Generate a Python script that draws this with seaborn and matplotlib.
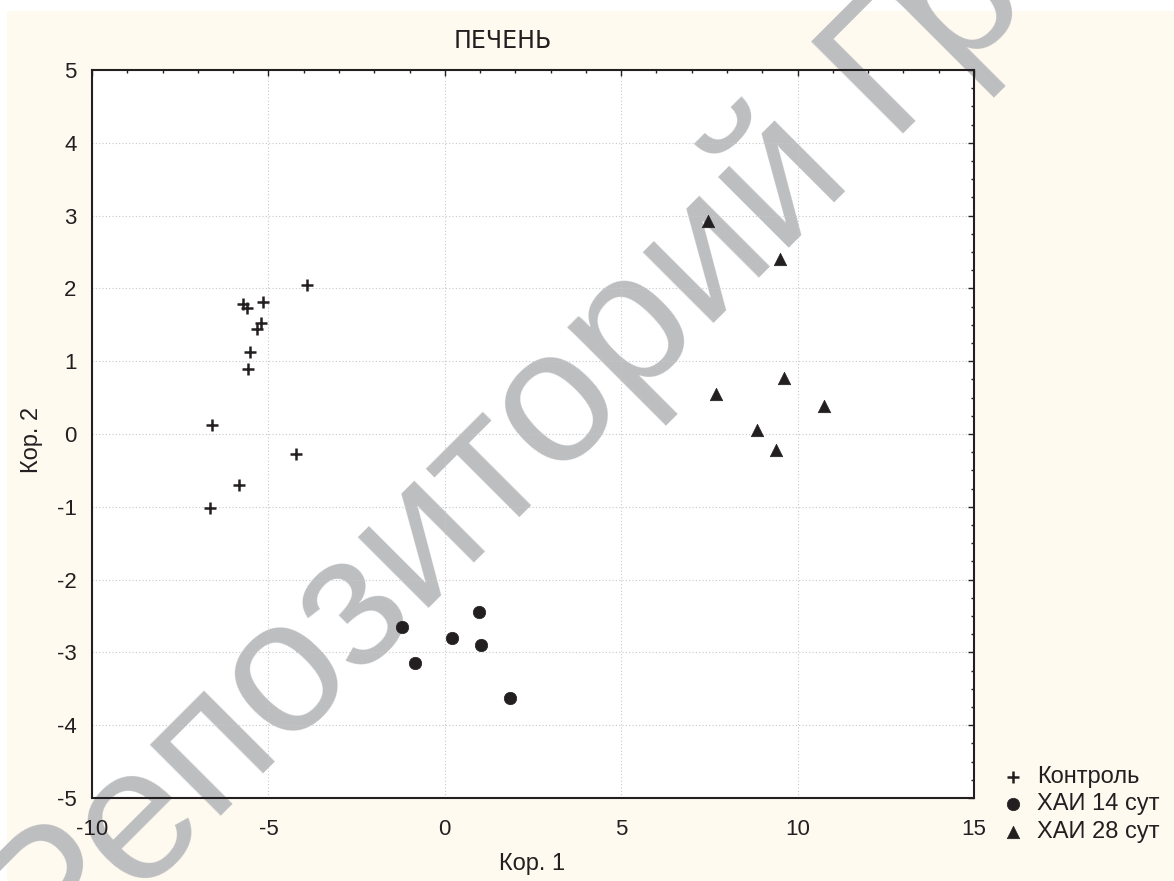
import matplotlib
matplotlib.use("Agg")
import matplotlib.pyplot as plt
import seaborn as sns
import numpy as np
import pandas as pd
from matplotlib.patches import Rectangle
from matplotlib.ticker import MultipleLocator

# ---- data ----
ctrl_x = [-3.91, -5.73, -5.62, -5.14, -5.22, -5.31, -5.52, -5.59, -6.61, -4.22, -5.82, -6.65]
ctrl_y = [2.04, 1.78, 1.73, 1.81, 1.53, 1.44, 1.12, 0.89, 0.13, -0.27, -0.70, -1.02]

hai14_x = [-1.22, -0.84, 0.21, 0.97, 1.03, 1.84]
hai14_y = [-2.65, -3.14, -2.80, -2.44, -2.90, -3.63]

hai28_x = [7.45, 9.51, 9.62, 7.69, 10.75, 8.86, 9.40]
hai28_y = [2.93, 2.40, 0.77, 0.55, 0.38, 0.05, -0.22]

group_labels = ["Контроль", "ХАИ 14 сут", "ХАИ 28 сут"]
title_text = "ПЕЧЕНЬ"
xlabel_text = "Кор. 1"
ylabel_text = "Кор. 2"
watermark_text = "Репозиторий ГрГУ"

# ---- style ----
sns.set_style("white")
plt.rcParams["font.family"] = ["Liberation Sans", "DejaVu Sans"]
plt.rcParams["axes.unicode_minus"] = False

ink = "#231f20"
W, H = 1174, 881
fig = plt.figure(figsize=(W / 100, H / 100), dpi=100, facecolor="white")
fig.patches.append(Rectangle((7 / W, 0), 1, 1 - 11 / H, transform=fig.transFigure,
                             facecolor="#fffaf0", edgecolor="none", zorder=-10))

ax = fig.add_axes([92 / W, 1 - 798 / H, (974 - 92) / W, (798 - 70) / H])
ax.set_facecolor("white")

sns.scatterplot(x=ctrl_x, y=ctrl_y, marker="+", s=85, color=ink, edgecolor=ink,
                linewidth=1.8, label=group_labels[0], ax=ax, zorder=4)
sns.scatterplot(x=hai14_x, y=hai14_y, marker="o", s=80, color=ink, edgecolor=ink,
                linewidth=0.5, label=group_labels[1], ax=ax, zorder=4)
sns.scatterplot(x=hai28_x, y=hai28_y, marker="^", s=80, color=ink, edgecolor=ink,
                linewidth=0.5, label=group_labels[2], ax=ax, zorder=4)

ax.set_xlim(-10, 15)
ax.set_ylim(-5, 5)
ax.xaxis.set_major_locator(MultipleLocator(5))
ax.xaxis.set_minor_locator(MultipleLocator(1))
ax.yaxis.set_major_locator(MultipleLocator(1))
ax.yaxis.set_minor_locator(MultipleLocator(0.25))

ax.tick_params(which="both", direction="in", top=True, right=True, color=ink,
               labelcolor=ink, labelsize=16)
ax.tick_params(which="major", length=4, width=1.0)
ax.tick_params(which="minor", length=2, width=1.0)
ax.tick_params(axis="x", which="major", pad=15)
ax.tick_params(axis="y", which="major", pad=11)

ax.grid(True, which="major", linestyle=(0, (1, 2)), color="#c8c8c8", linewidth=0.8)
ax.set_axisbelow(True)
for sp in ax.spines.values():
    sp.set_color(ink)
    sp.set_linewidth(1.5)

ax.set_xlabel(xlabel_text, fontsize=17, color=ink)
ax.set_ylabel(ylabel_text, fontsize=17, color=ink)
ax.xaxis.set_label_coords(532 / W, 1 - 853 / H, transform=fig.transFigure)
ax.yaxis.set_label_coords(43 / W, 1 - 440 / H, transform=fig.transFigure)

fig.text(503 / W, 1 - 48 / H, title_text, ha="center", va="baseline", fontsize=17,
         color=ink, family=["DejaVu Sans"])

handles, labels = ax.get_legend_handles_labels()
leg = ax.legend(handles, labels, loc="upper left",
                bbox_to_anchor=(1004.7 / W, 1 - 766 / H), bbox_transform=fig.transFigure,
                frameon=False, fontsize=17, handlelength=0.7, handletextpad=0.67,
                labelspacing=0.23, borderpad=0, borderaxespad=0)
for t in leg.get_texts():
    t.set_color(ink)

# watermark
ax.text(53 / W, (H - 983) / H, watermark_text, transform=fig.transFigure, rotation=45,
        rotation_mode="anchor", ha="left", va="baseline", fontsize=137,
        color="#bdbec0", zorder=0.3, clip_on=False, family=["Liberation Sans"])

fig.savefig("out.png", dpi=100, facecolor=fig.get_facecolor())
